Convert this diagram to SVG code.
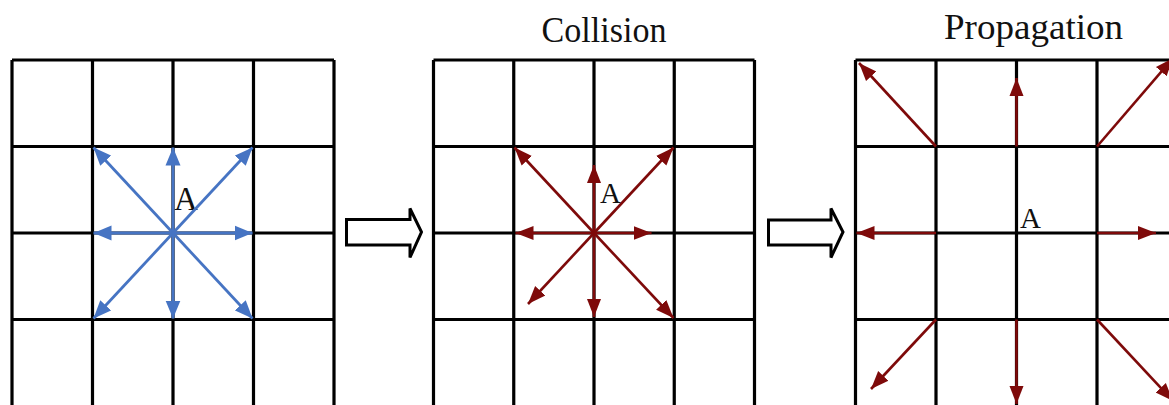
<svg xmlns="http://www.w3.org/2000/svg" width="1169" height="405" viewBox="0 0 1169 405">
<style>
.grid{stroke:#000;stroke-width:3.2;fill:none}
.blue{stroke:#4674C3;stroke-width:2.8;fill:none;marker-end:url(#hb)}
.red{stroke:#7E0A0A;stroke-width:2.6;fill:none;marker-end:url(#hr)}
.lbl{font-family:"Liberation Serif","DejaVu Serif",serif;fill:#111}
.step{fill:#fff;stroke:#000;stroke-width:3;stroke-linejoin:miter}
</style>
<defs>
<marker id="hb" markerUnits="userSpaceOnUse" markerWidth="19" markerHeight="16" viewBox="0 0 19 16" refX="18" refY="8" orient="auto">
<path d="M0,0.5 L18,8 L0,15.5 Z" fill="#4674C3"/>
</marker>
<marker id="hr" markerUnits="userSpaceOnUse" markerWidth="19" markerHeight="16" viewBox="0 0 19 16" refX="18" refY="8" orient="auto">
<path d="M0,1 L18,8 L0,15 Z" fill="#7E0A0A"/>
</marker>
</defs>
<rect width="1169" height="405" fill="#fff"/>

<g id="grid-initial">
<path class="grid" d="M12,60V410M92.5,60V410M173,60V410M253.5,60V410M334,60V410M12,60H334M12,146.5H334M12,233H334M12,319.5H334"/>
<text class="lbl" x="174" y="210" font-size="33">A</text>
</g>

<g id="grid-collision">
<text class="lbl" x="604" y="41.5" font-size="36" text-anchor="middle" textLength="125" lengthAdjust="spacingAndGlyphs">Collision</text>
<path class="grid" d="M433.5,60V410M513.75,60V410M594,60V410M674.25,60V410M754.5,60V410M433.5,60H754.5M433.5,146.5H754.5M433.5,233H754.5M433.5,319.5H754.5"/>
<text class="lbl" x="600" y="202.5" font-size="29">A</text>
</g>

<g id="grid-propagation">
<text class="lbl" x="1033.5" y="38.5" font-size="35" text-anchor="middle" textLength="179" lengthAdjust="spacingAndGlyphs">Propagation</text>
<path class="grid" d="M855.5,60V410M936,60V410M1016.5,60V410M1097,60V410M855.5,60H1172M855.5,146.5H1172M855.5,233H1172M855.5,319.5H1172"/>
<text class="lbl" x="1020" y="228" font-size="29">A</text>
</g>

<g id="step-arrow-1">
<polygon class="step" points="346.5,219.5 410,219.5 410,208.5 421.5,232 410,257.5 410,245 346.5,245"/>
</g>
<g id="step-arrow-2">
<polygon class="step" points="768.5,220 831,220 831,208.5 843,232 831,257.5 831,245 768.5,245"/>
</g>

<g id="connectors">
<g id="velocities-initial">
<line class="blue" x1="173" y1="233" x2="93.5" y2="147.5"/>
<line class="blue" x1="173" y1="233" x2="173" y2="147.5"/>
<line class="blue" x1="173" y1="233" x2="252.5" y2="147.5"/>
<line class="blue" x1="173" y1="233" x2="93.5" y2="233"/>
<line class="blue" x1="173" y1="233" x2="252.5" y2="233"/>
<line class="blue" x1="173" y1="233" x2="93.5" y2="318.5"/>
<line class="blue" x1="173" y1="233" x2="173" y2="318.5"/>
<line class="blue" x1="173" y1="233" x2="252.5" y2="318.5"/>
</g>
<g id="velocities-collision">
<line class="red" x1="594" y1="233" x2="514.5" y2="147.5"/>
<line class="red" x1="594" y1="233" x2="594" y2="165"/>
<line class="red" x1="594" y1="233" x2="673.5" y2="147.5"/>
<line class="red" x1="594" y1="233" x2="515.5" y2="233"/>
<line class="red" x1="594" y1="233" x2="651.5" y2="233"/>
<line class="red" x1="594" y1="233" x2="528" y2="304"/>
<line class="red" x1="594" y1="233" x2="594" y2="317"/>
<line class="red" x1="594" y1="233" x2="673.5" y2="318"/>
</g>
<g id="velocities-propagation">
<line class="red" x1="936" y1="146.5" x2="859" y2="63"/>
<line class="red" x1="1016.5" y1="146.5" x2="1016.5" y2="78"/>
<line class="red" x1="1097" y1="146.5" x2="1173" y2="58"/>
<line class="red" x1="936" y1="233" x2="856.5" y2="233"/>
<line class="red" x1="1097" y1="233" x2="1156" y2="233"/>
<line class="red" x1="936" y1="319.5" x2="871" y2="389"/>
<line class="red" x1="1016.5" y1="319.5" x2="1016.5" y2="404"/>
<line class="red" x1="1097" y1="319.5" x2="1173" y2="401"/>
</g>
</g>
</svg>
